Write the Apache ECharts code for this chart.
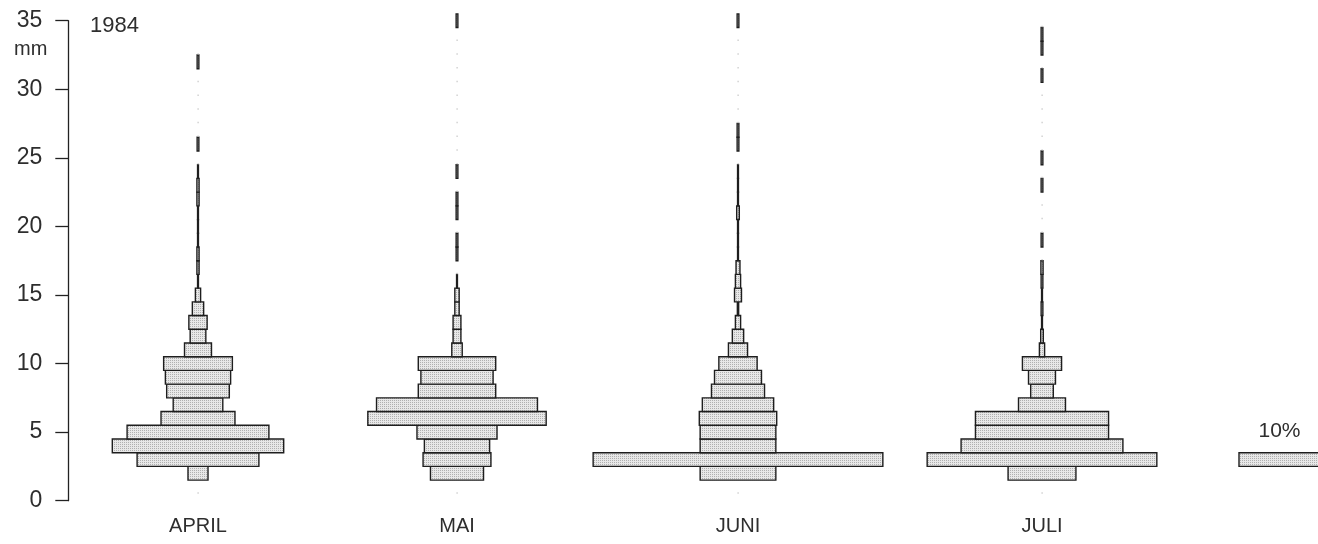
<!DOCTYPE html>
<html>
<head>
<meta charset="utf-8">
<script src="https://cdn.jsdelivr.net/npm/echarts/dist/echarts.min.js"></script>
<style>
html,body{margin:0;padding:0;background:#fff;}
#chart{width:1318px;height:544px;}
</style>
</head>
<body>
<div id="chart"></div>
<script>
// ---------------- data ----------------
const months = ['APRIL', 'MAI', 'JUNI', 'JULI'];
// precipitation classes (mm), each bar spans class ± 0.5 mm
const classesMM = [1,2,3,4,5,6,7,8,9,10,11,12,13,14,15,16,17,18,19,20,21,22,23,24,25,26,27,28,29,30,31,32,33,34,35];
// frequency in % per class
const april = [0,2.3,14.0,19.7,16.3,8.5,5.7,7.2,7.5,7.9,3.1,1.8,2.1,1.3,0.6,0.1,0.25,0.25,0.1,0.1,0.1,0.25,0.25,0.1,0,0.2,0,0,0,0,0,0.2,0,0,0];
const mai   = [0,6.1,7.8,7.5,9.2,20.5,18.5,8.9,8.3,8.9,1.2,0.9,0.9,0.5,0.5,0.1,0,0.2,0.2,0,0.2,0.2,0,0.2,0,0,0,0,0,0,0,0,0,0,0.2];
const juni  = [0,8.7,33.3,8.7,8.7,8.9,8.2,6.1,5.4,4.4,2.2,1.3,0.6,0.15,0.8,0.6,0.45,0.1,0.1,0.1,0.3,0.1,0.1,0.1,0,0.2,0.2,0,0,0,0,0,0,0,0.2];
const juli  = [0,7.8,26.4,18.6,15.3,15.3,5.4,2.6,3.1,4.5,0.6,0.3,0.1,0.2,0.1,0.2,0.25,0,0.2,0,0,0,0.2,0,0.2,0,0,0,0,0,0.2,0,0.2,0.2,0];
const monthSeries = [april, mai, juni, juli];
const scaleBarPercent = 10;
const scaleBarClass = 3;
const scaleBarLabel = '10%';
const yTicks = [0,5,10,15,20,25,30,35];
const yearLabel = '1984';
const unitLabel = 'mm';

// ---------------- layout ----------------
const PX_PER_PCT = 8.7;
const GRID_LEFT = 68.3, GRID_TOP = 20.7, GRID_BOTTOM = 43.3;
const X_MAX = (1318 - GRID_LEFT) / PX_PER_PCT;
const monthCentersPx = [129.7, 388.7, 669.7, 973.7];        // from grid left
const monthCenters = monthCentersPx.map(p => p / PX_PER_PCT);
const scaleBarLeft = 1170.7 / PX_PER_PCT;

const TEXT = '#2e2e2e';
const FONT = 'Liberation Sans, Arial, sans-serif';

// stippled fill pattern
const pat = document.createElement('canvas');
pat.width = 2; pat.height = 2;
const pc = pat.getContext('2d');
pc.fillStyle = '#e8e8e8'; pc.fillRect(0,0,2,2);
pc.fillStyle = '#b0b0b0'; pc.fillRect(0,0,1,1);
const fillPattern = { image: pat, repeat: 'repeat' };

// build series data from arrays (zero classes below the highest one get a faint marker)
const barData = [];
monthSeries.forEach((arr, mi) => {
  let top = 0;
  arr.forEach((v, i) => { if (v > 0) top = i; });
  arr.forEach((v, i) => {
    if (v > 0 || i <= top + 1) barData.push([monthCenters[mi], classesMM[i], v]);
  });
});

function rectFor(api, x0, x1, cls) {
  const p1 = api.coord([x0, cls + 0.5]);
  const p2 = api.coord([x1, cls - 0.5]);
  return { x: p1[0], y: p1[1], width: p2[0] - p1[0], height: p2[1] - p1[1] };
}

const chart = echarts.init(document.getElementById('chart'), null, { renderer: 'canvas' });
chart.setOption({
  animation: false,
  backgroundColor: '#fff',
  grid: { left: GRID_LEFT, right: 0, top: GRID_TOP, bottom: GRID_BOTTOM, containLabel: false },
  xAxis: {
    type: 'value', min: 0, max: X_MAX,
    splitLine: { show: false },
    axisLine: { show: false },
    axisTick: { show: false },
    axisLabel: {
      customValues: monthCenters,
      formatter: (val) => {
        let best = 0, d = Infinity;
        monthCenters.forEach((c, i) => { if (Math.abs(c - val) < d) { d = Math.abs(c - val); best = i; } });
        return months[best];
      },
      color: TEXT, fontFamily: FONT, fontSize: 20, margin: 16
    }
  },
  yAxis: {
    type: 'value', min: 0, max: 35, interval: 5,
    splitLine: { show: false },
    axisLine: { show: true, lineStyle: { color: '#222', width: 1.3 } },
    axisTick: { show: true, length: 13, lineStyle: { color: '#222', width: 1.3 } },
    axisLabel: { color: TEXT, fontFamily: FONT, fontSize: 23, margin: 26,
      formatter: v => yTicks.includes(v) ? String(v) : '' }
  },
  graphic: [
    { type: 'text', left: 90, top: 15, style: { text: yearLabel, fill: TEXT, font: '22px ' + FONT } },
    { type: 'text', left: 14, top: 39, style: { text: unitLabel, fill: TEXT, font: '20px ' + FONT } }
  ],
  series: [
    {
      type: 'custom',
      clip: false,
      data: barData,
      renderItem: (params, api) => {
        const c = api.value(0), cls = api.value(1), v = api.value(2);
        if (!(v > 0)) {
          const p = api.coord([c, cls - 0.45]);
          return { type: 'rect', shape: { x: p[0] - 0.5, y: p[1] - 1, width: 1.2, height: 1.5 },
                   style: { fill: '#c8c8c8' } };
        }
        return {
          type: 'rect',
          shape: rectFor(api, c - v / 2, c + v / 2, cls),
          style: { fill: fillPattern, stroke: '#1e1e1e', lineWidth: 1.4 }
        };
      }
    },
    {
      type: 'custom',
      clip: false,
      data: [[scaleBarLeft, scaleBarClass, scaleBarPercent]],
      renderItem: (params, api) => {
        const l = api.value(0), cls = api.value(1), v = api.value(2);
        const r = rectFor(api, l, l + v, cls);
        return {
          type: 'group',
          children: [
            { type: 'rect', shape: r, style: { fill: fillPattern, stroke: '#1e1e1e', lineWidth: 1.4 } },
            { type: 'text', x: r.x + r.width / 2 - 3, y: r.y - 11,
              style: { text: scaleBarLabel, fill: TEXT, font: '21px ' + FONT, align: 'center', verticalAlign: 'bottom' } }
          ]
        };
      }
    }
  ]
});
</script>
</body>
</html>
